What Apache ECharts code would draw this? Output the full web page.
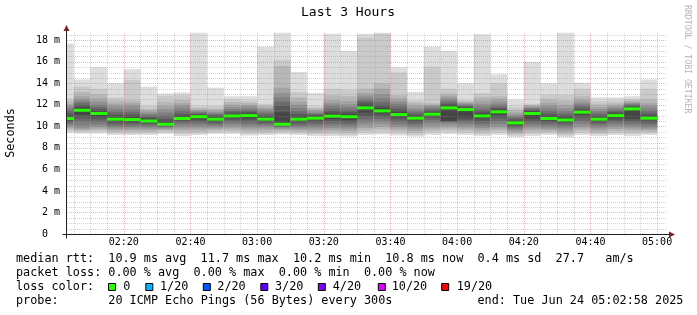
<!DOCTYPE html>
<html><head><meta charset="utf-8">
<script src="https://cdn.jsdelivr.net/npm/echarts@6/dist/echarts.min.js"></script>
<style>html,body{margin:0;padding:0;background:#fff}#c{width:697px;height:315px}</style>
</head><body><div id="c"></div>
<script>
// time axis in minutes since 00:00
const startMinute = 122 + 58 / 60;   // 02:02:58
const endMinute = 302 + 58 / 60;     // 05:02:58
const stepMinutes = 5;
const firstBarEnd = 125;             // 02:05
const yMax = 18.77;
const yTicks = [0, 2, 4, 6, 8, 10, 12, 14, 16, 18];
const yTickLabels = ['0', '2 m', '4 m', '6 m', '8 m', '10 m', '12 m', '14 m', '16 m', '18 m'];

// median rtt per 5-minute step (ms)
const medians = [10.73, 11.5, 11.2, 10.67, 10.64, 10.5, 10.2, 10.73, 10.9, 10.67, 10.97, 11.0,
  10.67, 10.2, 10.67, 10.76, 10.95, 10.9, 11.72, 11.44, 11.1, 10.76, 11.13, 11.72,
  11.56, 10.97, 11.35, 10.33, 11.2, 10.73, 10.6, 11.32, 10.67, 11.0, 11.63, 10.76];
// packet loss per step (count of 20)
const losses = [0,0,0,0,0,0,0,0,0,0,0,0,0,0,0,0,0,0,0,0,0,0,0,0,0,0,0,0,0,0,0,0,0,0,0,0];

// 20 sorted ping rtts (ms) per step
const b00 = [9.4, 9.55, 9.7, 9.85, 10.0, 10.15, 10.3, 10.45, 10.6, 10.7, 10.76, 10.95, 11.2, 11.45, 11.7, 11.9, 12.1, 12.35, 12.6, 17.7];
const b01 = [9.35, 9.45, 9.6, 9.7, 9.82, 10.1, 10.44, 10.75, 11.06, 11.45, 11.55, 11.75, 11.95, 12.15, 12.35, 12.55, 12.8, 13.2, 13.7, 14.35];
const b02 = [9.35, 9.5, 9.65, 9.8, 9.95, 10.15, 10.4, 10.65, 10.9, 11.15, 11.25, 11.4, 11.6, 11.8, 12.0, 12.3, 12.6, 13.0, 13.5, 15.5];
const b03 = [9.2, 9.35, 9.5, 9.65, 9.8, 9.95, 10.1, 10.3, 10.5, 10.63, 10.71, 10.9, 11.1, 11.35, 11.6, 11.85, 12.1, 12.4, 12.7, 14.0];
const b04 = [9.2, 9.35, 9.5, 9.65, 9.8, 9.95, 10.1, 10.3, 10.45, 10.6, 10.68, 10.9, 11.1, 11.35, 11.6, 11.9, 12.15, 12.4, 14.3, 15.3];
const b05 = [9.2, 9.35, 9.5, 9.65, 9.8, 9.95, 10.1, 10.25, 10.38, 10.47, 10.53, 10.7, 10.85, 11.0, 11.15, 11.3, 11.45, 11.6, 11.9, 13.7];
const b06 = [9.3, 9.45, 9.6, 9.7, 9.8, 9.9, 9.98, 10.06, 10.13, 10.19, 10.23, 10.45, 10.7, 11.0, 11.3, 11.6, 11.9, 12.3, 12.85, 13.05];
const b07 = [9.1, 9.3, 9.5, 9.7, 9.9, 10.1, 10.3, 10.45, 10.6, 10.7, 10.76, 10.95, 11.15, 11.4, 11.65, 11.9, 12.15, 12.45, 12.9, 13.15];
const b08 = [9.2, 9.35, 9.5, 9.7, 9.9, 10.1, 10.3, 10.5, 10.7, 10.87, 10.93, 11.05, 11.15, 11.25, 11.35, 11.45, 11.55, 11.7, 11.85, 18.7];
const b09 = [9.3, 9.45, 9.6, 9.75, 9.9, 10.05, 10.2, 10.35, 10.5, 10.64, 10.7, 10.85, 11.0, 11.1, 11.2, 11.35, 11.5, 11.65, 11.9, 13.6];
const b10 = [9.3, 9.45, 9.6, 9.8, 10.0, 10.2, 10.4, 10.6, 10.8, 10.94, 11.0, 11.15, 11.3, 11.45, 11.6, 11.8, 12.0, 12.25, 12.55, 12.8];
const b11 = [9.15, 9.3, 9.5, 9.7, 9.9, 10.1, 10.3, 10.55, 10.75, 10.95, 11.05, 11.2, 11.35, 11.5, 11.65, 11.85, 12.0, 12.2, 12.4, 12.8];
const b12 = [9.2, 9.35, 9.5, 9.7, 9.9, 10.05, 10.2, 10.35, 10.5, 10.64, 10.7, 10.85, 11.0, 11.2, 11.4, 11.6, 11.75, 11.9, 12.1, 17.4];
const b13 = [9.25, 9.4, 9.55, 9.7, 9.8, 9.9, 9.98, 10.05, 10.12, 10.18, 10.23, 11.3, 11.9, 12.3, 12.7, 13.1, 13.6, 15.6, 16.2, 18.7];
const b14 = [9.2, 9.35, 9.5, 9.65, 9.8, 9.95, 10.1, 10.3, 10.5, 10.63, 10.7, 10.9, 11.15, 11.4, 11.7, 12.0, 12.3, 12.7, 13.2, 15.05];
const b15 = [9.1, 9.25, 9.4, 9.6, 9.8, 10.0, 10.2, 10.4, 10.6, 10.72, 10.8, 10.92, 11.05, 11.15, 11.25, 11.4, 11.55, 11.7, 11.85, 13.1];
const b16 = [9.1, 9.25, 9.45, 9.65, 9.85, 10.05, 10.25, 10.5, 10.7, 10.9, 11.0, 11.2, 11.4, 11.65, 11.9, 12.15, 12.45, 12.9, 13.5, 18.6];
const b17 = [9.05, 9.2, 9.4, 9.6, 9.8, 10.0, 10.2, 10.4, 10.6, 10.85, 10.95, 11.15, 11.35, 11.55, 11.8, 12.05, 12.35, 12.8, 13.4, 17.0];
const b18 = [9.2, 9.4, 9.6, 9.85, 10.1, 10.35, 10.65, 10.95, 11.3, 11.65, 11.8, 12.0, 12.2, 12.4, 12.6, 12.85, 13.1, 13.5, 18.25, 18.6];
const b19 = [9.25, 9.45, 9.7, 9.95, 10.2, 10.45, 10.7, 10.95, 11.2, 11.38, 11.5, 11.7, 11.95, 12.25, 12.6, 13.0, 13.5, 14.0, 18.6, 18.7];
const b20 = [9.15, 9.35, 9.55, 9.75, 9.95, 10.15, 10.4, 10.65, 10.9, 11.05, 11.15, 11.35, 11.6, 11.85, 12.1, 12.35, 12.6, 12.9, 15.0, 15.5];
const b21 = [9.05, 9.2, 9.4, 9.6, 9.8, 10.0, 10.2, 10.4, 10.6, 10.72, 10.8, 10.95, 11.1, 11.3, 11.5, 11.7, 11.95, 12.2, 12.4, 13.2];
const b22 = [9.2, 9.4, 9.6, 9.8, 10.05, 10.3, 10.55, 10.8, 11.0, 11.1, 11.18, 11.3, 11.45, 11.6, 11.75, 11.9, 12.0, 12.15, 15.55, 17.4];
const b23 = [9.3, 9.5, 9.7, 9.9, 10.1, 10.3, 10.45, 10.45, 10.5, 11.65, 11.8, 11.95, 12.1, 12.25, 12.45, 12.65, 12.85, 13.05, 13.5, 17.0];
const b24 = [9.2, 9.4, 9.6, 9.8, 10.0, 10.2, 10.4, 10.6, 10.8, 11.5, 11.62, 11.72, 11.82, 11.92, 12.02, 12.12, 12.22, 12.32, 12.45, 14.0];
const b25 = [9.1, 9.25, 9.45, 9.65, 9.85, 10.05, 10.25, 10.5, 10.75, 10.92, 11.02, 11.2, 11.4, 11.6, 11.85, 12.1, 12.4, 12.75, 13.1, 18.55];
const b26 = [9.2, 9.4, 9.6, 9.8, 10.0, 10.25, 10.5, 10.8, 11.1, 11.3, 11.4, 11.55, 11.7, 11.85, 12.05, 12.3, 12.55, 12.8, 14.0, 14.85];
const b27 = [9.0, 9.15, 9.3, 9.45, 9.6, 9.75, 9.9, 10.05, 10.2, 10.3, 10.36, 10.5, 10.65, 10.8, 10.95, 11.1, 11.3, 11.55, 11.8, 12.5];
const b28 = [9.1, 9.3, 9.5, 9.7, 9.9, 10.1, 10.3, 10.5, 10.75, 11.15, 11.25, 11.4, 11.5, 11.6, 11.7, 11.8, 11.9, 12.0, 12.1, 16.0];
const b29 = [9.2, 9.35, 9.5, 9.65, 9.8, 10.0, 10.2, 10.4, 10.55, 10.7, 10.76, 10.95, 11.15, 11.4, 11.65, 11.9, 12.2, 12.55, 12.95, 14.0];
const b30 = [9.0, 9.15, 9.3, 9.5, 9.7, 9.9, 10.1, 10.3, 10.45, 10.58, 10.62, 10.8, 11.0, 11.2, 11.45, 11.7, 12.0, 12.4, 12.95, 18.7];
const b31 = [9.2, 9.4, 9.6, 9.8, 10.0, 10.25, 10.5, 10.8, 11.1, 11.3, 11.35, 11.5, 11.65, 11.85, 12.05, 12.25, 12.5, 12.8, 13.5, 14.05];
const b32 = [9.1, 9.25, 9.4, 9.6, 9.8, 10.0, 10.2, 10.35, 10.5, 10.64, 10.7, 10.85, 11.0, 11.2, 11.4, 11.6, 11.8, 12.05, 12.35, 12.7];
const b33 = [9.2, 9.35, 9.55, 9.75, 9.95, 10.15, 10.35, 10.55, 10.75, 10.97, 11.03, 11.2, 11.35, 11.5, 11.65, 11.8, 11.95, 12.15, 12.4, 12.7];
const b34 = [9.1, 9.3, 9.5, 9.7, 9.9, 10.1, 10.3, 10.5, 10.7, 11.6, 11.66, 11.78, 11.88, 11.98, 12.08, 12.18, 12.28, 12.4, 12.55, 12.8];
const b35 = [9.2, 9.35, 9.5, 9.65, 9.8, 10.0, 10.2, 10.4, 10.6, 10.73, 10.79, 10.95, 11.15, 11.4, 11.65, 11.9, 12.15, 12.5, 13.5, 14.35];
const pings = [b00,b01,b02,b03,b04,b05,b06,b07,b08,b09,b10,b11,b12,b13,b14,b15,b16,b17,b18,b19,
  b20,b21,b22,b23,b24,b25,b26,b27,b28,b29,b30,b31,b32,b33,b34,b35];

// legend
const lossLabels = ['0', '1/20', '2/20', '3/20', '4/20', '10/20', '19/20'];
const lossColors = ['#26ff00', '#00b8ff', '#0059ff', '#5e00ff', '#7e00ff', '#dd00ff', '#ff0000'];
const lossSteps = [0, 1, 2, 3, 4, 10, 19];
const legendLine1 = [[0, 'median rtt:'], [13, '10.9 ms avg'], [26, '11.7 ms max'], [39, '10.2 ms min'], [52, '10.8 ms now'], [65, '0.4 ms sd'], [76, '27.7'], [83, 'am/s']];
const legendLine2 = [[0, 'packet loss:'], [13, '0.00 % avg'], [25, '0.00 % max'], [37, '0.00 % min'], [49, '0.00 % now']];
const legendLine4 = [[0, 'probe:'], [13, '20 ICMP Echo Pings (56 Bytes) every 300s'], [65, 'end: Tue Jun 24 05:02:58 2025']];

// ---- styling ----
const MONO = 'DejaVu Sans Mono';
const shades = [];
for (let k = 1; k <= 10; k++) {
  const c = Math.floor(190 / 10 * (10 - k)) + 50;
  const h = c.toString(16).padStart(2, '0');
  shades.push('#' + h + h + h);
}
function lossColor(l) {
  let c = lossColors[0];
  for (let i = 0; i < lossSteps.length; i++) if (l >= lossSteps[i]) c = lossColors[i];
  return c;
}

const G = { left: 67, right: 30, top: 32, bottom: 81, containLabel: false, outerBoundsMode: 'none' };

// grid lines data (value, orientation 0=vertical 1=horizontal, major flag)
const gridData = [];
for (let t = 125; t < endMinute; t += 5) gridData.push([t, 0, t % 20 === 0 ? 1 : 0]);
for (let v = 0.5; v < yMax; v += 0.5) gridData.push([v, 1, Math.abs(v % 2) < 1e-9 ? 1 : 0]);

const chart = echarts.init(document.getElementById('c'), null, { renderer: 'canvas' });

const cw = 7.1, lx = 16;
const lineY = [259.3, 273.3, 287, 301];
const FONT = '11.8px "' + MONO + '"';
const graphics = [];
function addLine(items, row) {
  items.forEach(([col, s]) => graphics.push({
    type: 'text', x: lx + col * cw, y: lineY[row],
    style: { text: s, font: FONT, fill: '#000', textVerticalAlign: 'middle', textAlign: 'left' }
  }));
}
addLine(legendLine1, 0);
addLine(legendLine2, 1);
addLine([[0, 'loss color:']], 2);
addLine(legendLine4, 3);
const boxX = [108.5, 145.8, 203.3, 260.8, 318.3, 378.3, 441.7];
const boxTextX = [123.3, 160, 217.3, 275, 332.7, 391.7, 456.7];
lossLabels.forEach((lab, i) => {
  graphics.push({ type: 'rect', shape: { x: boxX[i], y: 283.5, width: 7, height: 7 },
    style: { fill: lossColors[i], stroke: '#000', lineWidth: 1 } });
  graphics.push({ type: 'text', x: boxTextX[i], y: lineY[2],
    style: { text: lab, font: FONT, fill: '#000', textVerticalAlign: 'middle' } });
});
// title
graphics.push({ type: 'text', x: 348, y: 13, style: { text: 'Last 3 Hours', font: '13px "' + MONO + '"', fill: '#000', textAlign: 'center', textVerticalAlign: 'middle' } });
// watermark
graphics.push({ type: 'text', x: 687, y: 5, rotation: -Math.PI / 2,
  style: { text: 'RRDTOOL / TOBI OETIKER', font: '8.2px "' + MONO + '"', fill: '#b4b4b4', textAlign: 'left', textVerticalAlign: 'middle' } });

function hhmm(v) {
  const tot = Math.round(v);
  const h = Math.floor(tot / 60), m = tot % 60;
  return String(h).padStart(2, '0') + ':' + String(m).padStart(2, '0');
}

chart.setOption({
  animation: false,
  backgroundColor: '#ffffff',
  grid: G,
  xAxis: {
    type: 'value', min: startMinute, max: endMinute, splitNumber: 9,
    axisLine: { show: false }, axisTick: { show: false }, splitLine: { show: false },
    axisLabel: { formatter: hhmm, showMinLabel: false, showMaxLabel: false, fontFamily: MONO, fontSize: 10, color: '#000', margin: 3 }
  },
  yAxis: {
    type: 'value', min: 0, max: yMax, interval: 2,
    axisLine: { show: false }, axisTick: { show: false }, splitLine: { show: false },
    axisLabel: { show: false },
    name: 'Seconds', nameLocation: 'middle', nameGap: 50,
    nameTextStyle: { fontFamily: MONO, fontSize: 11.8, color: '#000' }
  },
  series: [
    {
      type: 'custom', z: 2, clip: true,
      data: medians.map((m, i) => [firstBarEnd + i * stepMinutes, m, i]),
      renderItem(params, api) {
        const i = api.value(2);
        const row = pings[i];
        const tEnd = api.value(0);
        const tStart = Math.max(tEnd - stepMinutes, startMinute);
        const children = [];
        for (let k = 0; k < 10; k++) {
          const a = api.coord([tStart, row[19 - k]]);
          const b = api.coord([tEnd, row[k]]);
          children.push({ type: 'rect', shape: { x: a[0], y: a[1], width: b[0] - a[0], height: b[1] - a[1] }, style: { fill: shades[k] } });
        }
        return { type: 'group', children };
      }
    },
    {
      type: 'custom', z: 3, clip: true,
      data: medians.map((m, i) => [firstBarEnd + i * stepMinutes, m, losses[i]]),
      renderItem(params, api) {
        const tEnd = api.value(0);
        const tStart = Math.max(tEnd - stepMinutes, startMinute);
        const a = api.coord([tStart, api.value(1)]);
        const b = api.coord([tEnd, api.value(1)]);
        return { type: 'rect', shape: { x: a[0], y: a[1] - 1.5, width: b[0] - a[0], height: 3 }, style: { fill: lossColor(api.value(2)) } };
      }
    },
    {
      type: 'custom', z: 5, silent: true,
      data: gridData,
      renderItem(params, api) {
        const v = api.value(0), o = api.value(1), major = api.value(2);
        const stroke = major ? 'rgba(222,79,79,0.42)' : 'rgba(143,143,143,0.4)';
        let shape;
        if (o === 0) {
          const a = api.coord([v, 0]), b = api.coord([v, yMax]);
          const x = Math.round(a[0]) + 0.5;
          shape = { x1: x, y1: a[1], x2: x, y2: b[1] };
        } else {
          const a = api.coord([startMinute, v]), b = api.coord([endMinute, v]);
          const y = Math.round(a[1]) + 0.5;
          shape = { x1: a[0], y1: y, x2: b[0], y2: y };
        }
        return { type: 'line', shape, style: { stroke, lineWidth: 1, lineDash: [1, 1] } };
      }
    }
  ]
});

// axis lines, arrows and y tick labels placed through the chart's own scales
const o = chart.convertToPixel({ gridIndex: 0 }, [startMinute, 0]);
const tr = chart.convertToPixel({ gridIndex: 0 }, [endMinute, yMax]);
const ax = Math.round(o[0]) - 0.5, ay = Math.round(o[1]) + 0.5;
graphics.push({ type: 'line', shape: { x1: ax - 4, y1: ay, x2: tr[0] + 4, y2: ay }, style: { stroke: '#202020', lineWidth: 1 }, z: 20 });
graphics.push({ type: 'line', shape: { x1: ax, y1: ay + 4, x2: ax, y2: tr[1] - 3 }, style: { stroke: '#202020', lineWidth: 1 }, z: 20 });
graphics.push({ type: 'polygon', shape: { points: [[tr[0] + 8, ay], [tr[0] + 2, ay - 3], [tr[0] + 2, ay + 3]] }, style: { fill: '#802020' }, z: 20 });
graphics.push({ type: 'polygon', shape: { points: [[ax, tr[1] - 7], [ax - 3, tr[1] - 1], [ax + 3, tr[1] - 1]] }, style: { fill: '#802020' }, z: 20 });
yTicks.forEach((v, i) => {
  const p = chart.convertToPixel({ gridIndex: 0 }, [startMinute, v]);
  const isZero = v === 0;
  graphics.push({ type: 'text', x: isZero ? p[0] - 19 : p[0] - 7, y: p[1],
    style: { text: yTickLabels[i], font: '10px "' + MONO + '"', fill: '#000', textAlign: 'right', textVerticalAlign: 'middle' } });
});
chart.setOption({ graphic: graphics });
</script></body></html>
